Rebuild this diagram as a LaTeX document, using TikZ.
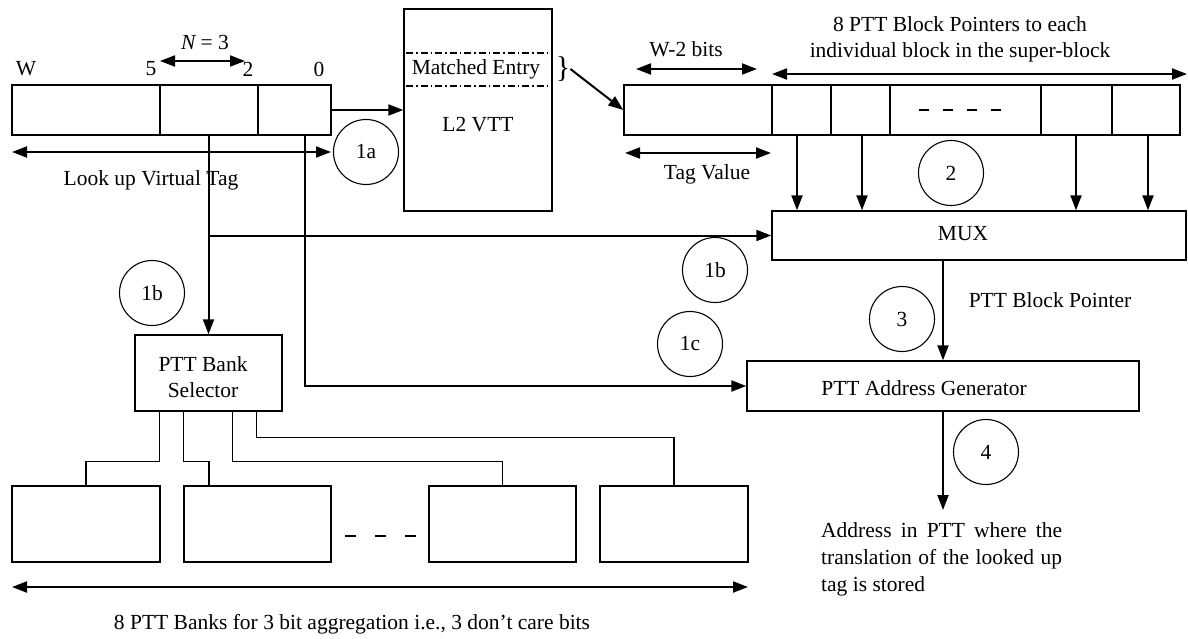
\documentclass[tikz,border=0pt]{standalone}
\usepackage{fontspec}
\setmainfont{Liberation Serif}
\usetikzlibrary{arrows.meta}
\begin{document}
\begin{tikzpicture}[x=1pt,y=-1pt,
  every node/.style={font=\fontsize{21.5pt}{27pt}\selectfont, inner sep=0pt},
  box/.style={draw, line width=1.4pt, inner sep=0pt},
  bub/.style={draw, circle, line width=1.1pt, minimum size=65pt, inner sep=0pt},
  arr/.style={line width=2pt, -{Triangle[length=15pt,width=11pt]}},
  darr/.style={line width=2pt, {Triangle[length=15pt,width=11pt]}-{Triangle[length=15pt,width=11pt]}},
  wire/.style={line width=1.4pt},
  dashdot/.style={line width=1.3pt, dash pattern=on 7pt off 3pt on 1.5pt off 3pt}]
\useasboundingbox (0,0) rectangle (1188,639);

% left register
\node[box, minimum width=319pt, minimum height=50pt] (lreg) at (171.5,110) {};
\draw[wire] (160,85) -- (160,135);
\draw[wire] (258,85) -- (258,135);
\node (lW) at (26,69) {W};
\node (l5) at (151,69) {5};
\node (l2) at (248,69) {2};
\node (l0) at (319,69) {0};
\node (lN) at (205,42) {{\itshape N} = 3};
\coordinate (nA) at (160,61); \coordinate (nB) at (245,61);
\draw[darr] (nA) -- (nB);
\coordinate (luA) at (12,152); \coordinate (luB) at (331,152);
\draw[darr] (luA) -- (luB);
\node (lut) at (151,180) {Look up Virtual Tag};
\node[bub] (c1a) at (366,152) {1a};

% L2 VTT
\node[box, minimum width=148pt, minimum height=202pt] (vtt) at (478,110) {};
\draw[dashdot] (406,53) -- (550,53);
\draw[dashdot] (406,86) -- (550,86);
\node (me) at (476,69) {Matched Entry};
\node (vttl) at (478,125) {L2 VTT};
\node[font=\fontsize{30pt}{30pt}\selectfont] (brace) at (563,69) {\}};
\draw[arr] (lreg.east) -- (vtt.west);

% right register
\node[box, minimum width=556pt, minimum height=50pt] (rreg) at (902,110) {};
\foreach \x in {772,831,890,1041,1112} \draw[wire] (\x,85) -- (\x,135);
\draw[line width=1.4pt, dash pattern=on 10pt off 14pt] (919,110) -- (1005,110);
\draw[arr] (brace.east) -- (rreg.west);
\node (w2) at (686,49) {W-2 bits};
\coordinate (w2A) at (636,69); \coordinate (w2B) at (757,69);
\draw[darr] (w2A) -- (w2B);
\node (bp1) at (960,24) {8 PTT Block Pointers to each};
\node (bp2) at (960,52) {individual block in the super-block};
\coordinate (bpA) at (772,74); \coordinate (bpB) at (1187,74);
\draw[darr] (bpA) -- (bpB);
\coordinate (tvA) at (625,153); \coordinate (tvB) at (771,153);
\draw[darr] (tvA) -- (tvB);
\node (tv) at (707,174) {Tag Value};
\node[bub] (c2) at (951,173) {2};

% MUX
\node[box, minimum width=414pt, minimum height=49pt] (mux) at (979,235.5) {};
\node (muxt) at (963,234) {MUX};
\foreach \x in {797,862,1076,1148} \draw[arr] (\x,0 |- rreg.south) -- (\x,0 |- mux.north);

% PTT address generator
\node[box, minimum width=392pt, minimum height=50pt] (pag) at (943,386) {};
\node (pagt) at (924,388) {PTT Address Generator};
\draw[arr] (pag.north |- mux.south) -- (pag.north);
\node (pbp) at (1050,300) {PTT Block Pointer};
\node[bub] (c3) at (902,319) {3};
\coordinate (out) at (943,510);
\draw[arr] (pag.south) -- (out);
\node[bub] (c4) at (986,452) {4};
\node[anchor=north west, text width=241pt, align=justify] (addr) at (821,522)
  {Address in PTT where the translation of the looked up tag is stored};

% selector and banks
\node[box, minimum width=147pt, minimum height=76pt] (sel) at (208.5,373) {};
\node (selt) at (203,379) {\begin{tabular}{@{}c@{}}PTT Bank\\[-1pt]Selector\end{tabular}};
\draw[arr] (sel.north |- lreg.south) -- (sel.north);
\draw[arr] (sel.north |- mux.west) -- (mux.west);
\draw[arr] ([xshift=294pt]lreg.south west) |- (pag.west);
\node[bub] (c1bR) at (715,270) {1b};
\node[bub] (c1bL) at (152,293) {1b};
\node[bub] (c1c) at (690,344) {1c};

\node[box, minimum width=148pt, minimum height=76pt] (b1) at (86,524) {};
\node[box, minimum width=147pt, minimum height=76pt] (b2) at (257.5,524) {};
\node[box, minimum width=147pt, minimum height=76pt] (b3) at (502.5,524) {};
\node[box, minimum width=148pt, minimum height=76pt] (b4) at (674,524) {};
\draw[line width=1.4pt, dash pattern=on 11pt off 19pt] (345,536) -- (416,536);
\draw[wire] ([xshift=25pt]sel.south west) -- ++(0,50) -| (b1.north);
\draw[wire] ([xshift=49pt]sel.south west) -- ++(0,50) -| ([xshift=-48.5pt]b2.north);
\draw[wire] ([xshift=98pt]sel.south west) -- ++(0,50) -| (b3.north);
\draw[wire] ([xshift=122pt]sel.south west) -- ++(0,26) -| (b4.north);
\coordinate (bkA) at (12,587); \coordinate (bkB) at (748,587);
\draw[darr] (bkA) -- (bkB);
\node (bkt) at (352,624) {8 PTT Banks for 3 bit aggregation i.e., 3 don’t care bits};
\end{tikzpicture}
\end{document}
